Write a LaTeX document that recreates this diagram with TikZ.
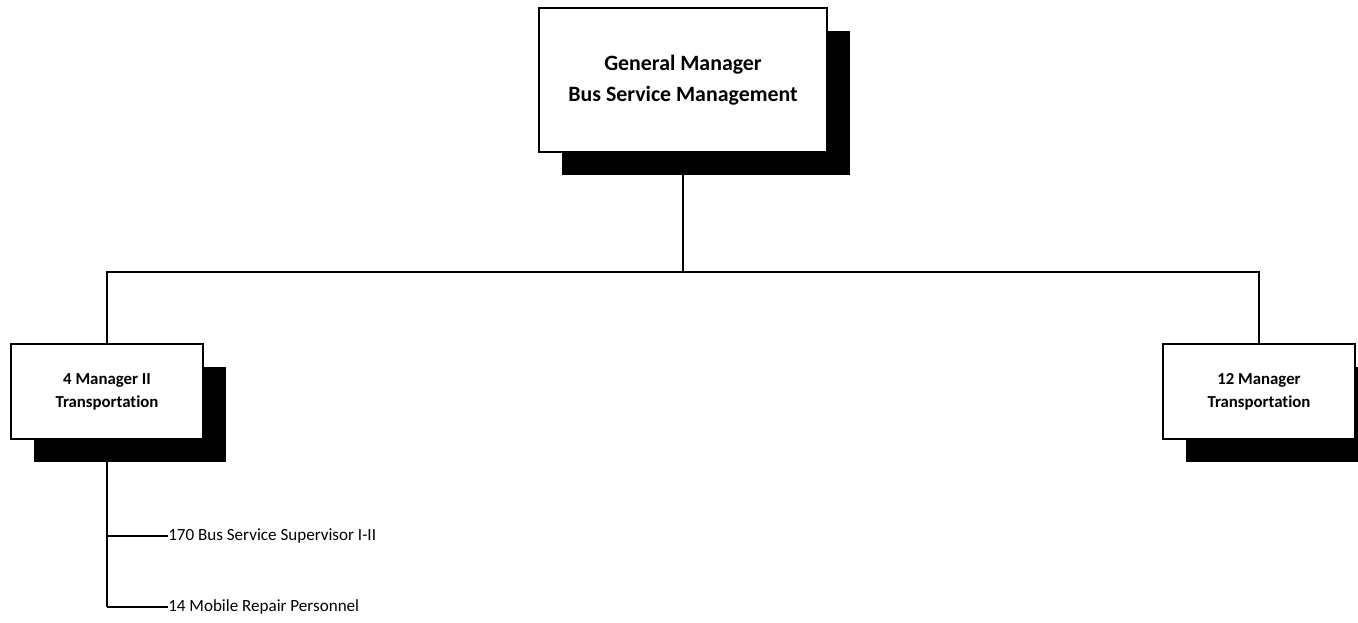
\documentclass[tikz,border=0pt]{standalone}
\usepackage{fontspec}
\setmainfont{Carlito}[Ligatures=NoCommon]
\usetikzlibrary{shadows}
\begin{document}
\begin{tikzpicture}[x=0.75pt,y=-0.75pt,
  orgbox/.style={rectangle, draw=black, line width=1.3pt, fill=white,
    align=center, inner sep=0pt,
    drop shadow={shadow xshift=17.6pt, shadow yshift=-17.6pt, fill=black, opacity=1}},
  topbox/.style={orgbox, minimum width=216pt, minimum height=108pt,
    font=\fontsize{16.4}{23.25}\selectfont\bfseries},
  unitbox/.style={orgbox, minimum width=144pt, minimum height=71.25pt,
    font=\fontsize{12.6}{17.25}\selectfont\bfseries},
  staff/.style={anchor=west, inner sep=0pt, font=\fontsize{12.8}{14}\selectfont},
  conn/.style={line width=2pt},
  branch/.style={line width=1.6pt}]
\useasboundingbox (0,0) rectangle (1358,623);

\node[topbox] (gm) at (683,80) {General Manager\\Bus Service Management};
\node[unitbox] (trans4) at (107,391.5) {4 Manager II\\Transportation};
\node[unitbox] (trans12) at (1259,391.5) {12 Manager\\Transportation};
\node[staff] (sup) at (168,536) {170 Bus Service Supervisor I-II};
\node[staff] (rep) at (168,607) {14 Mobile Repair Personnel};

\coordinate (bus) at (683,272);

\draw[conn] (gm.south) -- (bus);
\draw[conn] (trans4.north) -- (trans4.north |- bus) -- (trans12.north |- bus) -- (trans12.north);
\draw[conn] (trans4.south) -- (trans4.south |- rep.west);
\draw[branch] (trans4.south |- sup.west) -- (sup.west);
\draw[branch] (trans4.south |- rep.west) -- (rep.west);
\end{tikzpicture}
\end{document}
